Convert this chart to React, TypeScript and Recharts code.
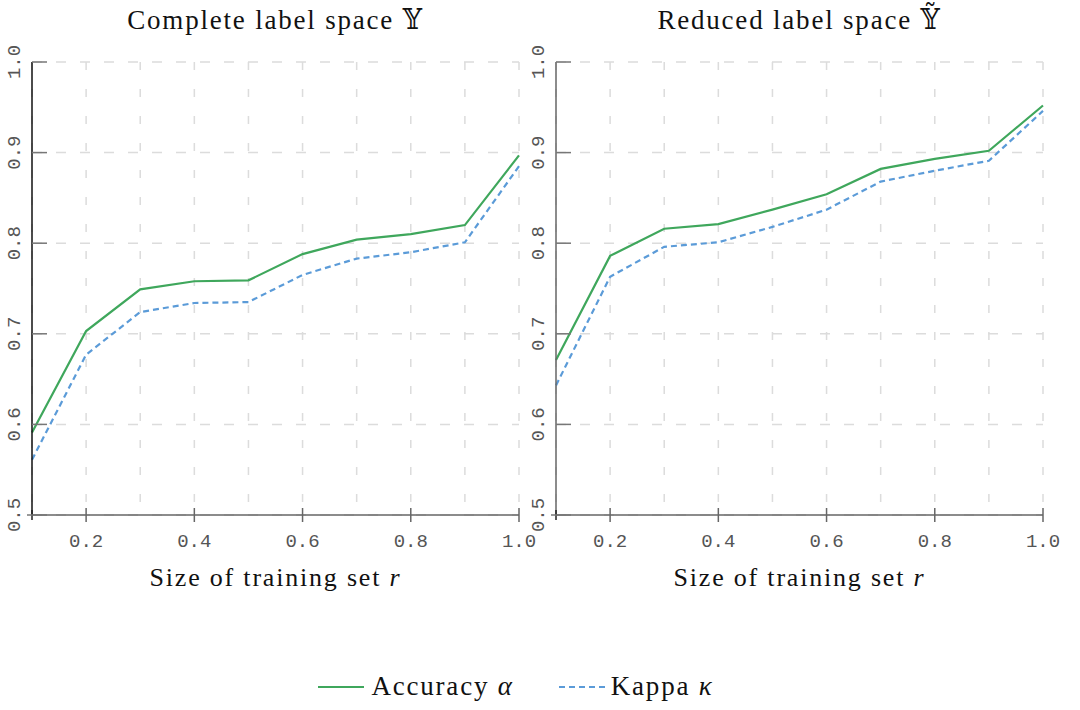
import { LineChart, Line, XAxis, YAxis, CartesianGrid } from 'recharts';

const sizes = [0.1, 0.2, 0.3, 0.4, 0.5, 0.6, 0.7, 0.8, 0.9, 1.0];
const yTicks = [0.5, 0.6, 0.7, 0.8, 0.9, 1.0];

const completeAccuracy = [0.591, 0.703, 0.749, 0.758, 0.759, 0.788, 0.804, 0.810, 0.820, 0.897];
const completeKappa = [0.561, 0.677, 0.724, 0.734, 0.735, 0.765, 0.783, 0.790, 0.801, 0.885];
const reducedAccuracy = [0.671, 0.786, 0.816, 0.821, 0.837, 0.854, 0.882, 0.893, 0.902, 0.952];
const reducedKappa = [0.643, 0.763, 0.796, 0.801, 0.818, 0.837, 0.868, 0.880, 0.891, 0.946];

const GREEN = '#3fa75c';
const BLUE = '#5b9bd8';
const GRID = '#dcdcdc';
const MONO = '"Liberation Mono", "DejaVu Sans Mono", monospace';
const SERIF = '"Liberation Serif", "DejaVu Serif", serif';

const buildRows = (acc: number[], kappa: number[]) =>
  sizes.map((x, i) => ({ x, acc: acc[i], kappa: kappa[i] }));

const XTick = (props: any) => {
  const { x, y, payload } = props;
  const v = Math.round(payload.value * 10);
  if (v % 2 !== 0) {
    if (v === 1) return <line x1={x} x2={x} y1={y - 5} y2={y + 5} stroke="#222" strokeWidth={1.5} />;
    return <g />;
  }
  return (
    <g>
      <line x1={x} x2={x} y1={y - 7} y2={y + 7} stroke="#666" strokeWidth={1.5} />
      <text x={x} y={y + 32} textAnchor="middle" fontFamily={MONO} fontSize={19} fill="#555">
        {payload.value.toFixed(1)}
      </text>
    </g>
  );
};

const YTick = (props: any) => {
  const { x, y, payload } = props;
  return (
    <g>
      <line x1={payload.value === 0.5 ? x - 5 : x} x2={x + 15} y1={y} y2={y} stroke="#777" strokeWidth={1.5} />
      <text
        x={x - 17}
        y={y}
        transform={`rotate(-90, ${x - 17}, ${y})`}
        textAnchor="middle"
        dominantBaseline="central"
        fontFamily={MONO}
        fontSize={19}
        fill="#555"
      >
        {payload.value.toFixed(1)}
      </text>
    </g>
  );
};

function Panel({ left, title, acc, kappa, axisColor }: { left: number; title: React.ReactNode; acc: number[]; kappa: number[]; axisColor: string }) {
  const data = buildRows(acc, kappa);
  return (
    <div style={{ position: 'absolute', left, top: 0, width: 540, height: 610 }}>
      <div
        style={{
          position: 'absolute', left: 12, width: 527, top: 2, textAlign: 'center',
          fontFamily: SERIF, fontSize: 27, lineHeight: '36px', color: '#111', letterSpacing: 1.8,
        }}
      >
        {title}
      </div>
      <div style={{ position: 'absolute', left: 0, top: 0 }}>
        <LineChart width={540} height={600} data={data} margin={{ top: 62, right: 21, left: 0, bottom: 0 }}>
          <CartesianGrid vertical={false} stroke={GRID} strokeWidth={1.5} strokeDasharray="10 14" />
          <CartesianGrid horizontal={false} stroke={GRID} strokeWidth={1.5} strokeDasharray="8 19" />
          <XAxis
            dataKey="x"
            type="number"
            domain={[0.1, 1.0]}
            ticks={sizes}
            height={85}
            tickSize={0}
            tickMargin={0}
            tickLine={false}
            axisLine={{ stroke: '#666', strokeWidth: 1.5 }}
            tick={<XTick />}
            interval={0}
          />
          <YAxis
            type="number"
            domain={[0.5, 1.0]}
            ticks={yTicks}
            width={32}
            tickSize={0}
            tickMargin={0}
            tickLine={false}
            axisLine={{ stroke: axisColor, strokeWidth: 1.5 }}
            tick={<YTick />}
            interval={0}
          />
          <Line dataKey="acc" type="linear" stroke={GREEN} strokeWidth={2.2} dot={false} isAnimationActive={false} />
          <Line dataKey="kappa" type="linear" stroke={BLUE} strokeWidth={2.2} strokeDasharray="6 4" dot={false} isAnimationActive={false} />
        </LineChart>
      </div>
      <div
        style={{
          position: 'absolute', left: 12, width: 527, top: 560, textAlign: 'center',
          fontFamily: SERIF, fontSize: 26, lineHeight: '36px', color: '#111', letterSpacing: 1.8,
        }}
      >
        Size of training set <i>r</i>
      </div>
    </div>
  );
}

export default function App() {
  return (
    <div style={{ position: 'absolute', left: 0, top: 0, width: 1080, height: 710, background: '#fff', overflow: 'hidden' }}>
      <Panel left={0} title={<>Complete label space 𝕐</>} acc={completeAccuracy} kappa={completeKappa} axisColor="#111" />
      <Panel left={524} title={<>Reduced label space 𝕐̃</>} acc={reducedAccuracy} kappa={reducedKappa} axisColor="#666" />
      <div
        style={{
          position: 'absolute', left: 0, width: 1032, top: 671, display: 'flex', justifyContent: 'center',
          alignItems: 'center', fontFamily: SERIF, fontSize: 27, color: '#111', letterSpacing: 1.8,
        }}
      >
        <svg width={46} height={10} style={{ marginRight: 7 }}>
          <line x1={0} x2={46} y1={5} y2={5} stroke={GREEN} strokeWidth={2.2} />
        </svg>
        <span style={{ marginRight: 45 }}>Accuracy <i>α</i></span>
        <svg width={46} height={10} style={{ marginRight: 6 }}>
          <line x1={0} x2={46} y1={5} y2={5} stroke={BLUE} strokeWidth={2.2} strokeDasharray="6 4" />
        </svg>
        <span>Kappa <i>κ</i></span>
      </div>
    </div>
  );
}
